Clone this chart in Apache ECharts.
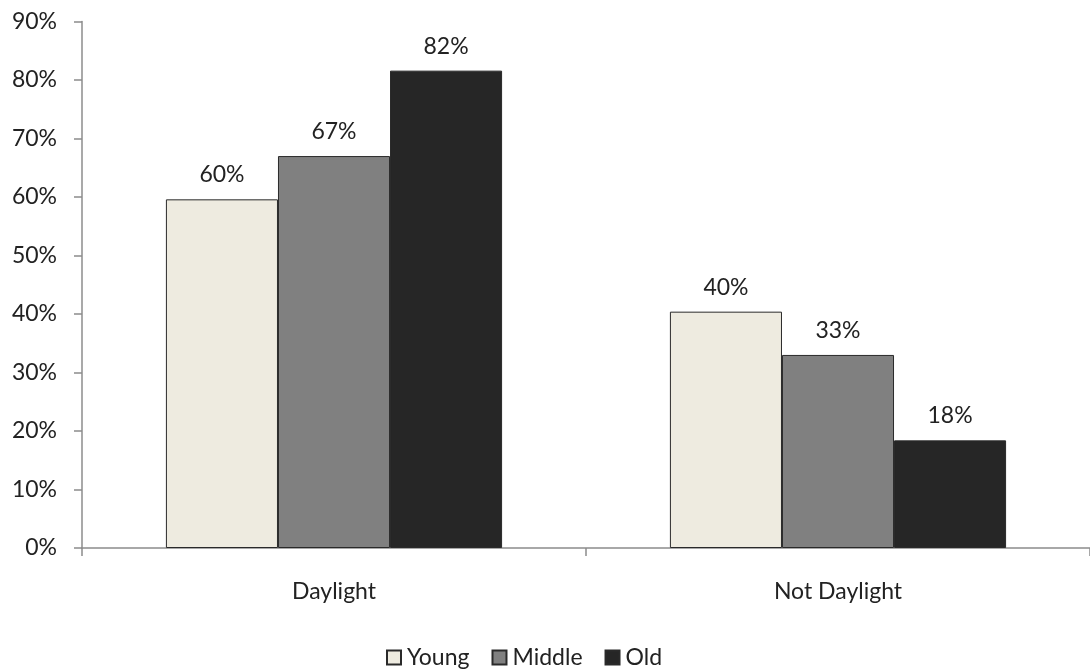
<!DOCTYPE html>
<html>
<head>
<meta charset="utf-8">
<script src="https://cdn.jsdelivr.net/npm/echarts@6/dist/echarts.min.js"></script>
<style>html,body{margin:0;padding:0;background:#fff}#c{width:1090px;height:672px}</style>
</head>
<body>
<div id="c"></div>
<script>
var categories = ['Daylight', 'Not Daylight'];
var seriesNames = ['Young', 'Middle', 'Old'];
var young = [59.6, 40.4];
var middle = [67.0, 33.0];
var old = [81.6, 18.4];
var colors = ['#EEEBE0', '#808080', '#262626'];
var FONT = 'Lato';
var FS = 23;
var TXT = '#222222';

var chart = echarts.init(document.getElementById('c'));
var vals = [young, middle, old];
var series = seriesNames.map(function (n, i) {
  return {
    name: n, type: 'bar', data: vals[i],
    barGap: '0%', barCategoryGap: '33.3%',
    itemStyle: { color: colors[i], borderColor: '#2a2a2a', borderWidth: 1 },
    label: {
      show: true, position: 'top', distance: 13,
      fontFamily: FONT, fontSize: FS, color: TXT,
      formatter: function (p) { return Math.round(p.value) + '%'; }
    }
  };
});
chart.setOption({
  animation: false,
  grid: { left: 82, right: 0, top: 21.5, bottom: 124 },
  legend: {
    top: 646, left: 386, padding: 0, itemWidth: 14, itemHeight: 14, itemGap: 22,
    textStyle: { fontFamily: FONT, fontSize: FS, color: TXT, padding: [0, 0, 0, 1] },
    data: seriesNames.map(function (n) { return { name: n, icon: 'rect' }; })
  },
  xAxis: {
    type: 'category', data: categories,
    axisLine: { lineStyle: { color: '#8c8c8c', width: 1.5 } },
    axisTick: { show: true, length: 8, lineStyle: { color: '#8c8c8c', width: 1.5 } },
    axisLabel: { margin: 32, fontFamily: FONT, fontSize: FS, color: TXT }
  },
  yAxis: {
    type: 'value', min: 0, max: 90, interval: 10,
    splitLine: { show: false },
    axisLine: { show: true, lineStyle: { color: '#8c8c8c', width: 1.5 } },
    axisTick: { show: true, length: 8, lineStyle: { color: '#8c8c8c', width: 1.5 } },
    axisLabel: { margin: 25, fontFamily: FONT, fontSize: FS, color: TXT, formatter: '{value}%' }
  },
  series: series
});
</script>
</body>
</html>
